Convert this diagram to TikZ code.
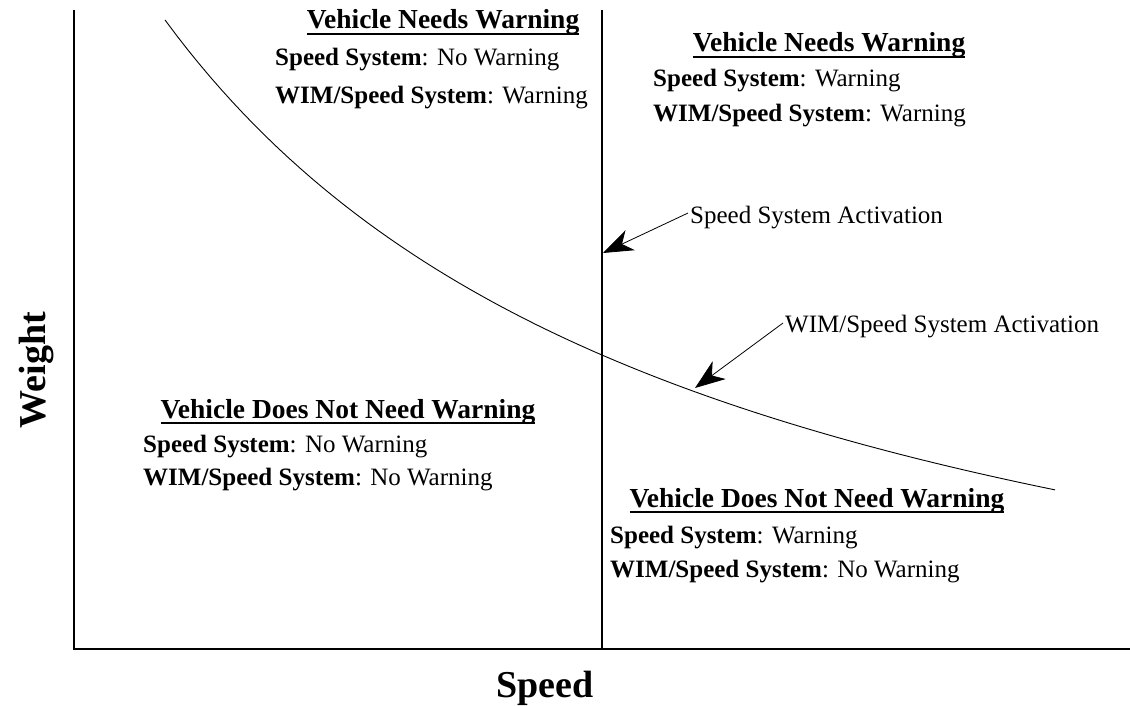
\documentclass[tikz,border=0pt]{standalone}
\usepackage{fontspec}
\setmainfont{Liberation Serif}
\usetikzlibrary{arrows.meta}

% bold heading with a rule just under the baseline
\newcommand\headul[1]{\setbox0\hbox{#1}\rlap{\rule[-6pt]{\wd0}{2pt}}\box0}

\tikzset{
  head/.style={anchor=base, inner sep=0pt, font=\fontsize{27.5}{33}\selectfont\bfseries},
  body/.style={anchor=base west, inner sep=0pt, font=\fontsize{25}{30}\selectfont},
  axislabel/.style={anchor=base, inner sep=0pt, font=\fontsize{38}{44}\selectfont\bfseries},
  pointer/.style={-{Stealth[length=30pt,width=22pt,inset=9pt]}, line width=0.8pt},
}

\begin{document}
\begin{tikzpicture}[x=1pt,y=-1pt]
  \useasboundingbox (0,0) rectangle (1130,706);

  % axes and speed threshold
  \draw[line width=1.6pt] (74,10) -- (74,649) -- (1130,649);
  \draw[line width=1.2pt] (602,10) -- (602,649);

  % weight/speed threshold curve
  \draw[line width=0.9pt] plot[domain=165:1055, samples=80]
    (\x, {788.1 - 433.937/((\x+400)/1000)});

  \node[axislabel, rotate=90] (weight) at (45,370) {Weight};
  \node[axislabel] (speed) at (545,697) {Speed};

  % top left
  \node[head] (tlhead) at (443,29) {\headul{Vehicle Needs Warning}};
  \node[body] (tlone) at (275,66) {\textbf{Speed System}: No Warning};
  \node[body] (tltwo) at (275,104) {\textbf{WIM/Speed System}: Warning};

  % top right
  \node[head] (trhead) at (829,52) {\headul{Vehicle Needs Warning}};
  \node[body] (trone) at (653,87) {\textbf{Speed System}: Warning};
  \node[body] (trtwo) at (653,122) {\textbf{WIM/Speed System}: Warning};

  % bottom left
  \node[head] (blhead) at (348,418) {\headul{Vehicle Does Not Need Warning}};
  \node[body] (blone) at (143,452) {\textbf{Speed System}: No Warning};
  \node[body] (bltwo) at (143,485) {\textbf{WIM/Speed System}: No Warning};

  % bottom right
  \node[head] (brhead) at (817,507) {\headul{Vehicle Does Not Need Warning}};
  \node[body] (brone) at (610,543) {\textbf{Speed System}: Warning};
  \node[body] (brtwo) at (610,577) {\textbf{WIM/Speed System}: No Warning};

  % activation pointers
  \coordinate (spdtip) at (603,253);
  \coordinate (wimtip) at (695,388);
  \node[body, inner sep=2pt] (spdact) at (688,223) {Speed System Activation};
  \node[body, inner sep=2pt] (wimact) at (783,332) {WIM/Speed System Activation};
  \draw[pointer] ([yshift=4pt]spdact.west) -- (spdtip);
  \draw[pointer] ([yshift=3pt]wimact.west) -- (wimtip);
\end{tikzpicture}
\end{document}
